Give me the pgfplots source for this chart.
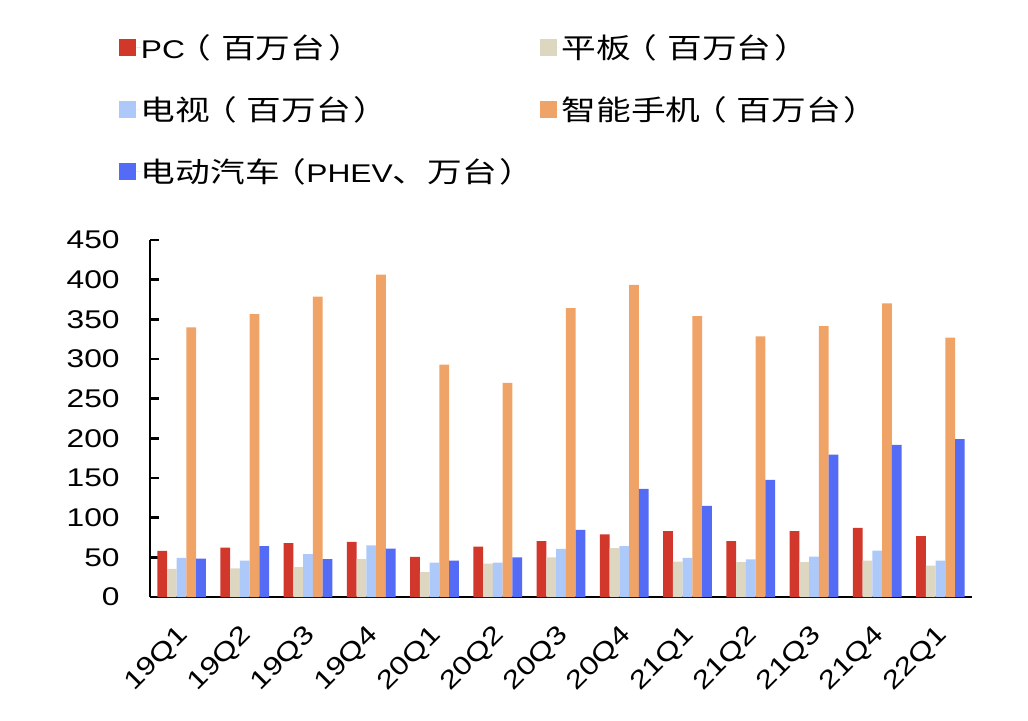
\documentclass[border=0pt]{standalone}
\usepackage{pgfplots}
\pgfplotsset{compat=1.18}
\usepackage{fontspec}
\setmainfont{Liberation Sans}[FakeStretch=1.24]
\newfontfamily\cjk{Noto Sans CJK SC}[FakeStretch=1.24]
\newcommand\zh[1]{{\cjk\fontsize{14}{17}\selectfont #1}}
\newcommand\lp{\kern-4.1pt\zh{（}\kern4.85pt}
\newcommand\lpp{\kern-4.1pt\zh{（}}
\newcommand\rp{\kern1.45pt\zh{）}}
\definecolor{cPC}{HTML}{D1372B}
\definecolor{cTab}{HTML}{DDD6C1}
\definecolor{cTV}{HTML}{ADC9FA}
\definecolor{cPh}{HTML}{F0A366}
\definecolor{cEV}{HTML}{536BF5}
\pgfplotsset{sq/.style={legend image code/.code={\fill[#1] (0pt,-4.25pt) rectangle (8.5pt,4.25pt); \path (0pt,0pt) -- (10.8pt,0pt);}}}
\begin{document}
\begin{tikzpicture}
\useasboundingbox (0,0) rectangle (514pt,360pt);
\begin{axis}[
  at={(75pt,61.5pt)}, anchor=south west,
  scale only axis, width=411pt, height=178.5pt,
  ybar=0pt, bar width=4.87pt,
  xmin=-0.5, xmax=12.5, ymin=0, ymax=450,
  xtick={0,...,12},
  xticklabels={19Q1,19Q2,19Q3,19Q4,20Q1,20Q2,20Q3,20Q4,21Q1,21Q2,21Q3,21Q4,22Q1},
  ytick={0,50,...,450},
  axis x line*=bottom, axis y line*=left,
  axis line style={line width=1.2pt, -},
  tick align=inside,
  major tick length=4.5pt,
  ytick style={line width=1.2pt, black},
  xtick style={draw=none},
  /pgf/number format/assume math mode=true,
  ticklabel style={font=\fontsize{12.8}{15}\selectfont},
  yticklabel style={inner sep=0pt, xshift=-15pt},
  xticklabel style={inner sep=0pt, anchor=north east, xshift=-2.5pt, yshift=-13pt, rotate=45},
  legend columns=2, legend cell align=left,
  legend style={at={(-0.0373,1.5692)}, anchor=north west, draw=none, fill=none,
    inner sep=0pt, outer sep=0pt, row sep=19.85pt, column sep=0pt,
    font=\fontsize{12.8}{15}\selectfont,
    nodes={inner sep=0pt, text width=199.55pt, text height=11pt, text depth=0pt, align=left}},
]
\addplot[fill=cPC, draw=none, sq=cPC] coordinates {(0,58) (1,62.4) (2,67.8) (3,69.6) (4,50.7) (5,63.6) (6,70.3) (7,78.8) (8,83) (9,70.3) (10,83) (11,87.2) (12,76.6)};
\addlegendentry{PC\lp\zh{百万台}\rp}
\addplot[fill=cTab, draw=none, sq=cTab] coordinates {(0,35.5) (1,36) (2,37.6) (3,47.7) (4,31.3) (5,42.2) (6,50) (7,61.5) (8,44.7) (9,43.9) (10,44) (11,46) (12,39.7)};
\addlegendentry{\zh{平板}\lp\zh{百万台}\rp}
\addplot[fill=cTV, draw=none, sq=cTV] coordinates {(0,49.4) (1,46) (2,54) (3,65) (4,43.5) (5,43.5) (6,60.8) (7,64) (8,49.4) (9,47.3) (10,51) (11,58.6) (12,46)};
\addlegendentry{\zh{电视}\lp\zh{百万台}\rp}
\addplot[fill=cPh, draw=none, sq=cPh] coordinates {(0,340) (1,356.5) (2,378.8) (3,406.5) (4,293) (5,270) (6,364) (7,393.5) (8,354) (9,328.4) (10,341.4) (11,370) (12,327)};
\addlegendentry{\zh{智能手机}\lp\zh{百万台}\rp}
\addplot[fill=cEV, draw=none, sq=cEV] coordinates {(0,48.5) (1,64) (2,47.7) (3,61) (4,46) (5,50) (6,84.7) (7,136.4) (8,115) (9,147.7) (10,179.6) (11,191.8) (12,198.9)};
\addlegendentry{\zh{电动汽车}\lpp PHEV\zh{、万台}\rp}
\end{axis}
\end{tikzpicture}
\end{document}
